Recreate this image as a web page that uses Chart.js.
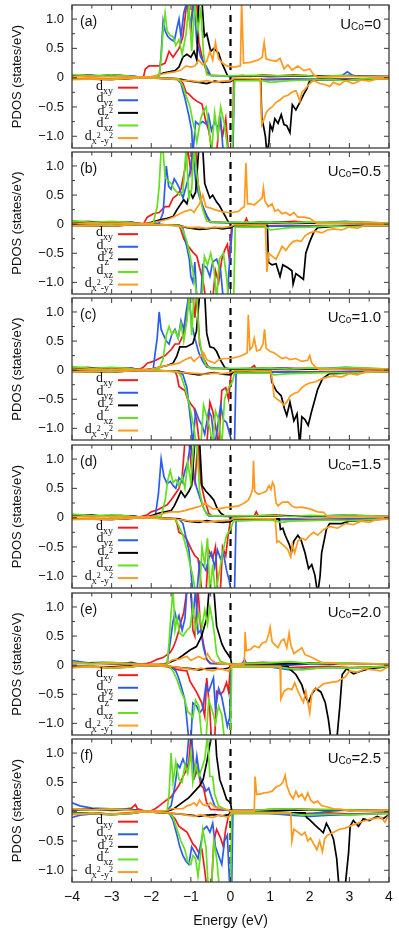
<!DOCTYPE html>
<html>
<head>
<meta charset="utf-8">
<script src="https://cdn.jsdelivr.net/npm/chart.js@4.4.1/dist/chart.umd.min.js"></script>
<style>
  html, body { margin: 0; padding: 0; background: #fff; }
  #wrap { position: relative; width: 399px; height: 934px; overflow: hidden; }
  #wrap canvas { position: absolute; left: 0; }
</style>
</head>
<body>
<div id="wrap"></div>
<script>
// axis ticks / labels
const energyTicks = [-4, -3, -2, -1, 0, 1, 2, 3, 4];
const energyTickLabels = ['−4', '−3', '−2', '−1', '0', '1', '2', '3', '4'];
const energyTickMarks = [-4, -3.5, -3, -2.5, -2, -1.5, -1, -0.5, 0, 0.5, 1, 1.5, 2, 2.5, 3, 3.5, 4];
const pdosTicks = [-1, -0.5, 0, 0.5, 1];
const pdosTickLabels = ['−1.0', '−0.5', '0', '0.5', '1.0'];
const pdosTickMarks = [-1, -0.75, -0.5, -0.25, 0, 0.25, 0.5, 0.75, 1];
const panelLetters = ['(a)', '(b)', '(c)', '(d)', '(e)', '(f)'];
const uValues = ['0', '0.5', '1.0', '1.5', '2.0', '2.5'];

// PDOS, [energy (eV), states/eV]; Up = spin up, Dn = spin down
// (a) U = 0
const aUpXy = [[-4,0.03],[-3.6,0.05],[-3.2,0.02],[-2.8,0.04],[-2.4,0.02],[-2.2,0],[-2.15,0.15],[-2.05,0.2],[-1.8,0.2],[-1.65,0.25],[-1.55,0.45],[-1.45,0.35],[-1.3,0.5],[-1.2,0.7],[-1.1,1.3],[-1.0,0.8],[-0.95,1.3],[-0.85,1.3],[-0.8,0.6],[-0.7,0.3],[-0.6,0.1],[-0.5,0.04],[-0.2,0.03],[0,0.02],[0.3,0.04],[0.5,0.02],[0.8,0.05],[1.2,0.03],[1.6,0.05],[2.0,0.03],[2.5,0.02],[3.0,0.04],[3.5,0.02],[4,0.02]];
const aUpYz = [[-4,0.02],[-3.5,0.04],[-3,0.02],[-2.5,0.03],[-2.2,0],[-1.8,0.02],[-1.75,0.4],[-1.7,0.97],[-1.65,0.8],[-1.58,0.7],[-1.5,0.65],[-1.42,0.62],[-1.35,0.85],[-1.3,1.0],[-1.25,0.7],[-1.18,1.1],[-1.1,1.3],[-1.0,0.9],[-0.92,1.3],[-0.85,0.6],[-0.75,0.35],[-0.62,0.2],[-0.5,0.04],[0,0.02],[0.5,0.03],[1.0,0.02],[2.0,0.03],[2.8,0.03],[2.95,0.1],[3.1,0.03],[4,0.02]];
const aUpZ2 = [[-4,0.03],[-3.5,0.02],[-3,0.05],[-2.5,0.02],[-2.2,0],[-1.9,0.02],[-1.7,0.08],[-1.55,0.1],[-1.4,0.12],[-1.3,0.18],[-1.2,0.35],[-1.1,0.4],[-1.0,0.35],[-0.92,0.45],[-0.85,0.3],[-0.8,1.3],[-0.72,1.3],[-0.66,0.7],[-0.6,0.75],[-0.5,0.45],[-0.42,0.5],[-0.3,0.42],[-0.22,0.25],[-0.15,0.15],[-0.08,0.04],[0,0.02],[0.5,0.03],[1.0,0.02],[2.0,0.03],[4,0.02]];
const aUpXz = [[-4,0.05],[-3.5,0.03],[-3,0.05],[-2.6,0.03],[-2.2,0],[-1.8,0.02],[-1.75,0.35],[-1.7,0.8],[-1.65,1.1],[-1.6,0.8],[-1.52,0.72],[-1.45,0.7],[-1.38,0.55],[-1.3,0.65],[-1.22,0.4],[-1.12,0.75],[-1.05,1.25],[-0.98,0.45],[-0.9,1.25],[-0.82,0.8],[-0.75,1.2],[-0.68,0.4],[-0.6,0.05],[-0.4,0.03],[0,0.03],[0.6,0.04],[1.2,0.03],[1.8,0.04],[2.2,0.02],[2.8,0.04],[3.2,0.02],[4,0.02]];
const aUpX2 = [[-4,0.02],[-3.5,0.01],[-3,0.02],[-2.5,0.01],[-2.0,0.02],[-1.8,0.05],[-1.6,0.08],[-1.4,0.1],[-1.25,0.13],[-1.12,0.2],[-1.0,0.18],[-0.9,0.2],[-0.8,0.3],[-0.7,0.22],[-0.6,0.28],[-0.52,0.45],[-0.45,0.3],[-0.38,0.6],[-0.3,0.32],[-0.2,0.25],[-0.1,0.2],[0.1,0.18],[0.25,0.2],[0.28,1.3],[0.33,0.25],[0.5,0.26],[0.7,0.3],[0.8,0.35],[0.85,0.6],[0.9,0.32],[1.0,0.3],[1.15,0.28],[1.25,0.33],[1.35,0.15],[1.45,0.22],[1.55,0.13],[1.7,0.2],[1.85,0.12],[2.0,0.15],[2.1,0.05],[2.2,0.01],[3,0.02],[4,0.02]];
const aDnXy = [[-4,-0.02],[-3,-0.03],[-2.2,0],[-1.3,-0.02],[-1.2,-0.1],[-1.12,-0.25],[-1.05,-0.28],[-0.95,-0.35],[-0.85,-0.4],[-0.72,-0.45],[-0.62,-0.75],[-0.55,-0.9],[-0.45,-1.3],[-0.35,-1.3],[-0.28,-0.7],[-0.2,-1.0],[-0.12,-0.7],[-0.05,-1.3],[0.05,-1.3],[0.08,-0.02],[0.8,-0.03],[1.5,-0.02],[2.0,-0.03],[3.0,-0.02],[4,-0.02]];
const aDnYz = [[-4,-0.02],[-3,-0.02],[-2.2,0],[-1.35,-0.02],[-1.25,-0.1],[-1.15,-0.35],[-1.05,-0.65],[-0.98,-0.9],[-0.95,-1.3],[-0.88,-0.75],[-0.8,-0.8],[-0.7,-0.75],[-0.6,-0.8],[-0.55,-0.65],[-0.48,-0.9],[-0.4,-0.75],[-0.32,-0.85],[-0.25,-0.7],[-0.18,-1.3],[0.06,-1.3],[0.1,-0.03],[0.8,-0.04],[1.5,-0.03],[2.0,-0.03],[2.8,-0.03],[4,-0.02]];
const aDnZ2 = [[-4,-0.02],[-3,-0.03],[-2.2,0],[-1.3,-0.02],[-1.1,-0.05],[-0.8,-0.08],[-0.6,-0.1],[-0.4,-0.06],[-0.2,-0.08],[0,-0.07],[0.1,-0.02],[0.76,-0.02],[0.79,-0.68],[0.84,-0.85],[0.88,-1.0],[0.92,-1.3],[0.97,-1.1],[1.0,-0.8],[1.06,-0.9],[1.12,-0.7],[1.2,-0.78],[1.28,-0.63],[1.35,-0.8],[1.42,-0.82],[1.5,-0.94],[1.56,-0.46],[1.65,-0.55],[1.75,-0.42],[1.85,-0.28],[1.92,-0.2],[2.0,-0.05],[2.3,-0.03],[3.0,-0.04],[3.5,-0.02],[4,-0.02]];
const aDnXz = [[-4,-0.03],[-3,-0.02],[-2.2,0],[-1.3,-0.02],[-1.2,-0.15],[-1.1,-0.35],[-1.02,-0.5],[-0.95,-0.75],[-0.9,-0.9],[-0.85,-1.1],[-0.8,-0.9],[-0.75,-0.7],[-0.7,-0.6],[-0.62,-0.5],[-0.55,-0.8],[-0.48,-1.3],[-0.4,-0.6],[-0.32,-1.0],[-0.25,-0.5],[-0.15,-0.8],[-0.06,-1.3],[0.04,-1.3],[0.1,-0.05],[0.8,-0.05],[1.0,-0.08],[1.5,-0.05],[2.0,-0.04],[2.5,-0.03],[2.9,-0.05],[3.3,-0.02],[4,-0.02]];
const aDnX2 = [[-4,-0.03],[-3.5,-0.02],[-3,-0.03],[-2.2,0],[-1.5,-0.02],[-1.2,-0.05],[-1.0,-0.05],[-0.8,-0.07],[-0.6,-0.05],[-0.4,-0.08],[-0.2,-0.06],[0,-0.05],[0.1,-0.01],[0.75,-0.02],[0.79,-0.8],[0.85,-0.7],[0.9,-0.6],[0.95,-0.55],[1.05,-0.5],[1.15,-0.42],[1.25,-0.38],[1.35,-0.32],[1.45,-0.3],[1.55,-0.25],[1.65,-0.22],[1.7,-0.3],[1.75,-0.4],[1.8,-0.25],[1.9,-0.18],[2.0,-0.1],[2.1,-0.05],[2.25,-0.1],[2.4,-0.12],[2.5,-0.15],[2.6,-0.08],[2.75,-0.12],[2.9,-0.05],[3.1,-0.1],[3.3,-0.04],[3.5,-0.06],[3.7,-0.02],[4,-0.02]];

// (b) U = 0.5
const bUpXy = [[-4,0.03],[-3.6,0.05],[-3.2,0.02],[-2.8,0.04],[-2.4,0.02],[-2.2,0],[-2.1,0.12],[-1.95,0.18],[-1.8,0.2],[-1.65,0.3],[-1.55,0.3],[-1.45,0.45],[-1.35,0.5],[-1.25,0.6],[-1.15,0.95],[-1.08,1.3],[-1.0,0.9],[-0.95,1.3],[-0.88,1.3],[-0.82,0.7],[-0.72,0.35],[-0.62,0.15],[-0.52,0.04],[-0.2,0.03],[0,0.02],[0.35,0.02],[0.4,0.1],[0.45,0.02],[0.8,0.04],[1.2,0.03],[1.6,0.05],[2.0,0.03],[2.5,0.02],[3.0,0.04],[4,0.02]];
const bUpYz = [[-4,0.02],[-3.5,0.04],[-3,0.02],[-2.5,0.03],[-2.2,0],[-1.8,0.02],[-1.7,0.2],[-1.62,1.0],[-1.56,0.65],[-1.5,0.6],[-1.42,0.78],[-1.35,0.7],[-1.28,0.6],[-1.2,0.45],[-1.1,0.7],[-1.02,0.9],[-0.95,1.3],[-0.88,0.75],[-0.8,0.5],[-0.7,0.3],[-0.6,0.15],[-0.5,0.03],[0,0.02],[1.0,0.03],[2.0,0.02],[2.9,0.05],[3.5,0.02],[4,0.02]];
const bUpZ2 = [[-4,0.02],[-3.5,0.04],[-3,0.02],[-2.5,0.03],[-2.2,0],[-2.0,0.03],[-1.8,0.07],[-1.6,0.1],[-1.45,0.13],[-1.35,0.25],[-1.25,0.35],[-1.18,0.42],[-1.1,0.35],[-1.02,0.55],[-0.95,0.45],[-0.88,0.55],[-0.8,1.3],[-0.7,1.3],[-0.65,0.7],[-0.6,0.6],[-0.52,0.45],[-0.45,0.5],[-0.35,0.38],[-0.28,0.32],[-0.2,0.22],[-0.12,0.12],[-0.05,0.03],[0.5,0.02],[1.0,0.03],[2.0,0.02],[4,0.02]];
const bUpXz = [[-4,0.06],[-3.5,0.03],[-3,0.05],[-2.6,0.03],[-2.2,0],[-1.95,0.02],[-1.85,0.3],[-1.8,0.65],[-1.75,1.3],[-1.7,1.25],[-1.65,0.8],[-1.58,0.75],[-1.5,0.7],[-1.42,0.6],[-1.35,0.55],[-1.28,0.5],[-1.2,0.55],[-1.12,1.3],[-1.05,0.45],[-0.98,0.6],[-0.92,1.3],[-0.85,0.85],[-0.78,0.5],[-0.7,0.25],[-0.6,0.05],[-0.4,0.03],[0,0.03],[0.6,0.03],[1.0,0.04],[1.5,0.02],[2.0,0.04],[2.4,0.03],[3.0,0.04],[4,0.02]];
const bUpX2 = [[-4,0.02],[-3.5,0.01],[-3,0.02],[-2.5,0.01],[-2.0,0.02],[-1.8,0.05],[-1.6,0.08],[-1.45,0.12],[-1.3,0.17],[-1.15,0.22],[-1.0,0.25],[-0.92,0.2],[-0.85,0.28],[-0.78,0.35],[-0.7,0.5],[-0.62,0.3],[-0.52,0.28],[-0.4,0.25],[-0.25,0.22],[-0.1,0.2],[0.05,0.2],[0.2,0.22],[0.3,0.28],[0.35,0.3],[0.39,1.05],[0.43,0.35],[0.5,0.35],[0.6,0.33],[0.75,0.42],[0.8,0.45],[0.83,0.62],[0.87,0.4],[0.95,0.3],[1.05,0.35],[1.12,0.22],[1.2,0.25],[1.3,0.18],[1.4,0.2],[1.5,0.15],[1.6,0.2],[1.7,0.12],[1.85,0.12],[2.0,0.1],[2.1,0.05],[2.2,0.01],[3,0.02],[4,0.02]];
const bDnXy = [[-4,-0.02],[-3,-0.03],[-2.2,0],[-1.3,-0.02],[-1.25,-0.1],[-1.18,-0.25],[-1.1,-0.35],[-1.02,-0.42],[-0.95,-0.48],[-0.85,-0.55],[-0.78,-0.75],[-0.7,-0.95],[-0.62,-1.3],[-0.45,-1.3],[-0.38,-0.8],[-0.3,-1.0],[-0.22,-0.6],[-0.15,-0.45],[-0.08,-0.35],[-0.03,-0.6],[0.03,-0.03],[0.8,-0.03],[1.5,-0.02],[2.0,-0.03],[3.0,-0.02],[4,-0.02]];
const bDnYz = [[-4,-0.02],[-3,-0.02],[-2.2,0],[-1.3,-0.02],[-1.2,-0.08],[-1.1,-0.4],[-1.04,-0.6],[-1.0,-0.9],[-0.95,-1.0],[-0.9,-0.65],[-0.85,-1.3],[-0.75,-1.3],[-0.7,-0.7],[-0.6,-0.75],[-0.52,-0.9],[-0.45,-0.65],[-0.35,-0.6],[-0.25,-0.8],[-0.18,-1.3],[-0.08,-1.3],[-0.04,-0.8],[0.05,-0.03],[0.9,-0.04],[1.5,-0.03],[2.0,-0.04],[2.8,-0.03],[4,-0.02]];
const bDnZ2 = [[-4,-0.02],[-3,-0.03],[-2.2,0],[-1.3,-0.02],[-1.1,-0.06],[-0.8,-0.09],[-0.6,-0.08],[-0.4,-0.06],[-0.2,-0.08],[0,-0.06],[0.1,-0.02],[0.93,-0.02],[0.96,-0.66],[1.05,-0.7],[1.15,-0.68],[1.25,-0.9],[1.32,-0.7],[1.45,-0.75],[1.55,-0.8],[1.58,-1.03],[1.65,-0.85],[1.75,-0.9],[1.84,-0.95],[1.9,-0.5],[2.0,-0.3],[2.1,-0.14],[2.2,-0.06],[2.6,-0.04],[3.0,-0.03],[4,-0.02]];
const bDnXz = [[-4,-0.03],[-3,-0.02],[-2.2,0],[-1.3,-0.02],[-1.2,-0.1],[-1.1,-0.3],[-1.02,-0.55],[-0.95,-0.8],[-0.9,-1.0],[-0.85,-1.2],[-0.8,-1.3],[-0.72,-1.3],[-0.66,-0.55],[-0.58,-0.7],[-0.5,-0.5],[-0.42,-0.75],[-0.35,-1.3],[-0.28,-0.6],[-0.18,-0.5],[-0.1,-0.9],[-0.05,-1.3],[0.08,-1.3],[0.12,-0.05],[0.9,-0.05],[1.0,-0.1],[1.5,-0.06],[2.0,-0.05],[2.5,-0.03],[3.0,-0.04],[4,-0.02]];
const bDnX2 = [[-4,-0.03],[-3.5,-0.02],[-3,-0.03],[-2.2,0],[-1.5,-0.02],[-1.2,-0.04],[-1.0,-0.06],[-0.8,-0.05],[-0.6,-0.07],[-0.4,-0.05],[-0.2,-0.06],[0,-0.04],[0.1,-0.01],[0.88,-0.02],[0.92,-0.82],[0.96,-0.5],[1.05,-0.55],[1.15,-0.6],[1.22,-0.5],[1.3,-0.38],[1.4,-0.45],[1.5,-0.35],[1.58,-0.3],[1.68,-0.28],[1.78,-0.3],[1.88,-0.2],[2.0,-0.15],[2.15,-0.12],[2.3,-0.15],[2.45,-0.1],[2.6,-0.08],[2.8,-0.1],[3.0,-0.05],[3.2,-0.07],[3.4,-0.02],[4,-0.02]];

// (c) U = 1.0
const cUpXy = [[-4,0.03],[-3.6,0.05],[-3.2,0.02],[-2.8,0.04],[-2.3,0.01],[-2.2,0.05],[-2.1,0.12],[-1.95,0.15],[-1.8,0.2],[-1.65,0.25],[-1.5,0.35],[-1.4,0.45],[-1.3,0.45],[-1.2,0.6],[-1.12,0.8],[-1.05,1.3],[-0.95,1.3],[-0.9,0.9],[-0.85,1.3],[-0.78,0.45],[-0.68,0.2],[-0.58,0.08],[-0.5,0.03],[0,0.02],[0.5,0.03],[0.6,0.08],[0.65,0.02],[1.0,0.04],[1.5,0.03],[2.0,0.03],[2.5,0.02],[3.0,0.04],[4,0.02]];
const cUpYz = [[-4,0.02],[-3.5,0.04],[-3,0.02],[-2.5,0.03],[-2.2,0],[-1.95,0.02],[-1.9,0.3],[-1.85,0.55],[-1.8,1.0],[-1.75,0.7],[-1.7,0.62],[-1.62,0.5],[-1.55,0.45],[-1.48,0.62],[-1.4,0.7],[-1.32,0.55],[-1.25,0.85],[-1.18,0.7],[-1.12,1.0],[-1.05,1.3],[-0.98,0.8],[-0.9,0.55],[-0.8,0.3],[-0.7,0.15],[-0.6,0.05],[0,0.02],[1.0,0.03],[2.0,0.02],[2.9,0.05],[3.5,0.02],[4,0.02]];
const cUpZ2 = [[-4,0.02],[-3.5,0.04],[-3,0.02],[-2.5,0.03],[-2.2,0],[-2.0,0.02],[-1.8,0.05],[-1.6,0.08],[-1.45,0.12],[-1.36,0.23],[-1.28,0.4],[-1.12,0.4],[-0.95,0.46],[-0.86,0.67],[-0.78,1.3],[-0.65,1.3],[-0.6,0.63],[-0.52,0.4],[-0.42,0.38],[-0.35,0.32],[-0.26,0.18],[-0.14,0.04],[0,0.02],[1.0,0.03],[2.0,0.02],[4,0.02]];
const cUpXz = [[-4,0.06],[-3.5,0.03],[-3,0.05],[-2.6,0.03],[-2.2,0],[-1.8,0.02],[-1.7,0.2],[-1.62,0.6],[-1.55,0.75],[-1.48,0.62],[-1.4,0.68],[-1.32,0.55],[-1.25,0.8],[-1.18,0.5],[-1.1,0.85],[-1.04,1.3],[-0.98,0.6],[-0.92,1.3],[-0.85,1.3],[-0.8,0.6],[-0.72,0.3],[-0.62,0.08],[-0.5,0.03],[0,0.03],[0.6,0.03],[1.0,0.04],[1.5,0.02],[2.0,0.04],[2.5,0.03],[3.0,0.05],[4,0.02]];
const cUpX2 = [[-4,0.02],[-3.5,0.01],[-3,0.02],[-2.5,0.01],[-2.0,0.02],[-1.8,0.05],[-1.6,0.08],[-1.45,0.1],[-1.3,0.12],[-1.15,0.18],[-1.0,0.22],[-0.92,0.15],[-0.85,0.2],[-0.75,0.25],[-0.68,0.3],[-0.6,0.18],[-0.5,0.15],[-0.4,0.12],[-0.3,0.18],[-0.15,0.2],[0,0.2],[0.2,0.23],[0.35,0.27],[0.42,0.3],[0.45,0.95],[0.49,0.35],[0.55,0.4],[0.6,0.55],[0.66,0.33],[0.75,0.35],[0.82,0.45],[0.86,0.7],[0.9,0.38],[1.0,0.32],[1.1,0.3],[1.2,0.25],[1.3,0.2],[1.4,0.22],[1.5,0.18],[1.65,0.2],[1.8,0.15],[1.95,0.17],[2.0,0.25],[2.05,0.12],[2.15,0.05],[2.25,0.01],[3,0.02],[4,0.02]];
const cDnXy = [[-4,-0.02],[-3,-0.03],[-2.2,0],[-1.4,-0.02],[-1.35,-0.1],[-1.3,-0.28],[-1.22,-0.32],[-1.15,-0.35],[-1.08,-0.5],[-1.0,-0.58],[-0.92,-0.65],[-0.85,-0.88],[-0.78,-1.3],[-0.6,-1.3],[-0.52,-0.55],[-0.45,-0.7],[-0.38,-0.95],[-0.3,-1.3],[-0.22,-0.35],[-0.12,-0.3],[-0.05,-0.5],[0.02,-0.03],[0.8,-0.03],[1.5,-0.02],[2.0,-0.03],[3.0,-0.02],[4,-0.02]];
const cDnYz = [[-4,-0.02],[-3,-0.02],[-2.2,0],[-1.3,-0.02],[-1.2,-0.08],[-1.1,-0.3],[-1.05,-0.6],[-1.0,-0.9],[-0.95,-1.3],[-0.88,-0.7],[-0.8,-0.85],[-0.72,-0.95],[-0.65,-1.1],[-0.55,-0.7],[-0.48,-0.8],[-0.4,-1.3],[-0.33,-1.0],[-0.25,-0.6],[-0.18,-0.85],[-0.1,-0.9],[-0.02,-1.1],[0.06,-1.3],[0.1,-1.3],[0.14,-0.05],[0.9,-0.04],[1.5,-0.03],[2.0,-0.04],[2.8,-0.03],[4,-0.02]];
const cDnZ2 = [[-4,-0.02],[-3,-0.03],[-2.2,0],[-1.3,-0.02],[-1.1,-0.05],[-0.8,-0.08],[-0.6,-0.06],[-0.4,-0.04],[-0.2,-0.07],[0,-0.08],[0.1,-0.02],[1.02,-0.02],[1.04,-0.2],[1.16,-0.36],[1.28,-0.44],[1.36,-0.66],[1.42,-0.78],[1.5,-0.55],[1.6,-0.87],[1.68,-0.75],[1.75,-1.3],[1.8,-0.8],[1.88,-0.85],[1.96,-0.95],[2.05,-0.7],[2.2,-0.33],[2.32,-0.15],[2.5,-0.06],[3.0,-0.05],[3.5,-0.03],[4,-0.02]];
const cDnXz = [[-4,-0.03],[-3,-0.02],[-2.2,0],[-1.35,-0.02],[-1.25,-0.1],[-1.15,-0.3],[-1.05,-0.55],[-0.98,-0.8],[-0.92,-1.0],[-0.86,-1.3],[-0.75,-1.3],[-0.68,-0.6],[-0.6,-0.8],[-0.52,-1.0],[-0.45,-1.3],[-0.38,-0.7],[-0.3,-0.85],[-0.22,-1.3],[-0.15,-0.5],[-0.05,-0.3],[0.05,-0.2],[0.1,-0.05],[1.0,-0.05],[1.1,-0.08],[1.5,-0.06],[2.0,-0.05],[2.5,-0.04],[3.0,-0.05],[4,-0.02]];
const cDnX2 = [[-4,-0.03],[-3.5,-0.02],[-3,-0.03],[-2.2,0],[-1.5,-0.02],[-1.2,-0.04],[-1.0,-0.05],[-0.8,-0.06],[-0.6,-0.07],[-0.4,-0.05],[-0.2,-0.06],[0,-0.04],[0.1,-0.01],[1.02,-0.02],[1.06,-0.2],[1.1,-0.45],[1.18,-0.5],[1.28,-0.55],[1.35,-0.6],[1.42,-0.55],[1.5,-0.45],[1.6,-0.4],[1.7,-0.38],[1.8,-0.3],[1.9,-0.25],[2.0,-0.22],[2.15,-0.2],[2.3,-0.15],[2.45,-0.12],[2.6,-0.1],[2.8,-0.12],[3.0,-0.06],[3.2,-0.08],[3.4,-0.03],[4,-0.02]];

// (d) U = 1.5
const dUpXy = [[-4,0.03],[-3.6,0.05],[-3.2,0.02],[-2.8,0.04],[-2.3,0.01],[-2.1,0.05],[-2.0,0.1],[-1.85,0.13],[-1.7,0.18],[-1.6,0.22],[-1.5,0.3],[-1.4,0.4],[-1.3,0.5],[-1.22,0.7],[-1.15,1.3],[-1.05,1.3],[-0.98,0.8],[-0.9,0.6],[-0.82,1.3],[-0.75,0.6],[-0.65,0.3],[-0.55,0.08],[-0.48,0.03],[0,0.02],[0.6,0.03],[0.65,0.1],[0.7,0.03],[1.1,0.05],[1.5,0.03],[2.0,0.03],[2.5,0.02],[3.0,0.04],[4,0.02]];
const dUpYz = [[-4,0.02],[-3.5,0.04],[-3,0.02],[-2.5,0.03],[-2.2,0],[-1.9,0.02],[-1.82,0.4],[-1.75,1.0],[-1.68,0.7],[-1.6,0.58],[-1.52,0.62],[-1.45,0.55],[-1.38,0.5],[-1.3,0.68],[-1.22,0.6],[-1.15,0.8],[-1.08,0.95],[-1.0,1.3],[-0.92,0.7],[-0.85,0.5],[-0.75,0.3],[-0.65,0.12],[-0.55,0.03],[0,0.02],[1.0,0.03],[2.0,0.02],[2.9,0.05],[3.5,0.02],[4,0.02]];
const dUpZ2 = [[-4,0.02],[-3.5,0.04],[-3,0.02],[-2.5,0.03],[-2.2,0],[-2.0,0.03],[-1.8,0.08],[-1.65,0.1],[-1.5,0.12],[-1.42,0.2],[-1.35,0.3],[-1.25,0.45],[-1.15,0.35],[-1.05,0.45],[-0.98,0.55],[-0.9,1.3],[-0.78,1.3],[-0.72,0.55],[-0.62,0.45],[-0.52,0.38],[-0.42,0.3],[-0.35,0.18],[-0.25,0.08],[-0.15,0.03],[0,0.02],[1.0,0.03],[2.0,0.02],[4,0.02]];
const dUpXz = [[-4,0.06],[-3.5,0.03],[-3,0.05],[-2.6,0.03],[-2.2,0],[-1.75,0.02],[-1.65,0.3],[-1.58,0.65],[-1.52,0.8],[-1.45,0.6],[-1.38,0.65],[-1.3,0.55],[-1.22,0.7],[-1.15,0.5],[-1.08,0.95],[-1.0,0.6],[-0.92,1.3],[-0.85,1.3],[-0.78,0.45],[-0.7,0.2],[-0.6,0.05],[-0.45,0.03],[0,0.03],[0.6,0.03],[1.0,0.04],[1.5,0.02],[2.0,0.04],[2.5,0.03],[3.0,0.05],[4,0.02]];
const dUpX2 = [[-4,0.02],[-3.5,0.01],[-3,0.02],[-2.5,0.01],[-2.0,0.02],[-1.8,0.05],[-1.65,0.08],[-1.5,0.1],[-1.3,0.1],[-1.15,0.12],[-1.0,0.15],[-0.85,0.18],[-0.75,0.2],[-0.65,0.25],[-0.55,0.2],[-0.45,0.15],[-0.3,0.15],[-0.15,0.17],[0,0.18],[0.2,0.2],[0.35,0.25],[0.45,0.3],[0.52,0.4],[0.56,0.5],[0.58,0.97],[0.61,0.45],[0.7,0.4],[0.8,0.42],[0.9,0.45],[0.97,0.55],[1.02,0.48],[1.06,0.6],[1.1,0.55],[1.15,0.25],[1.2,0.2],[1.3,0.26],[1.45,0.27],[1.55,0.2],[1.65,0.17],[1.8,0.18],[2.0,0.15],[2.2,0.1],[2.35,0.09],[2.45,0.02],[3,0.02],[4,0.02]];
const dDnXy = [[-4,-0.02],[-3,-0.03],[-2.2,0],[-1.4,-0.02],[-1.35,-0.1],[-1.3,-0.25],[-1.22,-0.28],[-1.12,-0.35],[-1.05,-0.45],[-0.98,-0.55],[-0.9,-0.65],[-0.82,-0.7],[-0.78,-0.9],[-0.72,-1.3],[-0.62,-1.3],[-0.55,-0.55],[-0.45,-0.7],[-0.38,-0.5],[-0.32,-1.3],[-0.26,-1.3],[-0.2,-0.5],[-0.12,-0.65],[-0.06,-0.3],[0,-0.05],[0.05,-0.03],[0.8,-0.03],[1.5,-0.02],[2.0,-0.03],[3.0,-0.02],[4,-0.02]];
const dDnYz = [[-4,-0.02],[-3,-0.02],[-2.2,0],[-1.3,-0.02],[-1.2,-0.1],[-1.12,-0.35],[-1.05,-0.55],[-1.0,-0.9],[-0.95,-1.3],[-0.85,-1.3],[-0.78,-0.75],[-0.7,-0.8],[-0.62,-0.9],[-0.55,-0.7],[-0.48,-0.6],[-0.4,-0.85],[-0.33,-0.55],[-0.25,-0.7],[-0.18,-0.6],[-0.1,-0.9],[-0.04,-1.05],[0.03,-1.3],[0.1,-1.3],[0.14,-0.05],[0.9,-0.04],[1.5,-0.03],[2.0,-0.04],[2.8,-0.03],[4,-0.02]];
const dDnZ2 = [[-4,-0.02],[-3,-0.03],[-2.2,0],[-1.3,-0.02],[-1.1,-0.06],[-0.8,-0.08],[-0.6,-0.05],[-0.4,-0.07],[-0.2,-0.08],[0,-0.07],[0.1,-0.02],[1.23,-0.02],[1.26,-0.2],[1.32,-0.18],[1.38,-0.3],[1.48,-0.45],[1.54,-0.59],[1.6,-0.4],[1.7,-0.3],[1.78,-0.38],[1.88,-0.6],[1.97,-0.87],[2.05,-0.8],[2.13,-0.98],[2.2,-1.3],[2.26,-1.0],[2.3,-0.6],[2.36,-0.4],[2.42,-0.2],[2.5,-0.1],[2.8,-0.1],[3.0,-0.06],[3.5,-0.04],[4,-0.02]];
const dDnXz = [[-4,-0.03],[-3,-0.02],[-2.2,0],[-1.4,-0.02],[-1.3,-0.15],[-1.2,-0.3],[-1.1,-0.55],[-1.02,-0.8],[-0.95,-1.0],[-0.88,-1.3],[-0.78,-1.3],[-0.72,-0.5],[-0.65,-0.8],[-0.58,-0.35],[-0.52,-1.3],[-0.45,-0.8],[-0.38,-1.3],[-0.3,-1.0],[-0.2,-0.6],[-0.1,-0.3],[0,-0.2],[0.08,-0.05],[1.0,-0.04],[1.3,-0.08],[1.5,-0.06],[2.0,-0.05],[2.5,-0.04],[3.0,-0.05],[4,-0.02]];
const dDnX2 = [[-4,-0.03],[-3.5,-0.02],[-3,-0.03],[-2.2,0],[-1.5,-0.02],[-1.2,-0.04],[-1.0,-0.06],[-0.8,-0.05],[-0.6,-0.08],[-0.4,-0.06],[-0.2,-0.05],[0,-0.04],[0.1,-0.01],[1.13,-0.02],[1.17,-0.42],[1.22,-0.4],[1.3,-0.45],[1.38,-0.5],[1.45,-0.55],[1.52,-0.67],[1.56,-0.45],[1.62,-0.6],[1.7,-0.4],[1.8,-0.35],[1.9,-0.38],[2.0,-0.3],[2.1,-0.25],[2.2,-0.3],[2.35,-0.2],[2.5,-0.15],[2.7,-0.18],[2.9,-0.1],[3.1,-0.12],[3.3,-0.06],[3.5,-0.08],[3.7,-0.03],[4,-0.02]];

// (e) U = 2.0
const eUpXy = [[-4,0.05],[-3.6,0.03],[-3.2,0.04],[-2.8,0.02],[-2.5,0.05],[-2.3,0.01],[-2.1,0.03],[-2.0,0.05],[-1.85,0.1],[-1.7,0.13],[-1.6,0.18],[-1.52,0.22],[-1.45,0.3],[-1.38,0.42],[-1.3,0.6],[-1.25,0.75],[-1.18,0.9],[-1.1,1.3],[-1.0,1.3],[-0.95,0.6],[-0.9,0.5],[-0.82,1.3],[-0.76,0.7],[-0.68,0.35],[-0.6,0.1],[-0.52,0.03],[0,0.02],[0.4,0.03],[0.8,0.05],[1.2,0.04],[1.6,0.03],[2.0,0.04],[2.5,0.02],[3.0,0.03],[4,0.02]];
const eUpYz = [[-4,0.08],[-3.6,0.04],[-3.2,0.05],[-2.8,0.03],[-2.5,0.04],[-2.2,0.01],[-1.6,0.02],[-1.52,0.4],[-1.45,0.75],[-1.4,0.9],[-1.35,0.75],[-1.3,0.85],[-1.22,0.6],[-1.15,0.8],[-1.1,1.3],[-1.0,1.3],[-0.95,0.8],[-0.88,1.3],[-0.82,0.55],[-0.75,0.6],[-0.68,0.3],[-0.6,0.1],[-0.5,0.03],[0,0.02],[0.3,0.02],[0.35,0.1],[0.4,0.03],[1.0,0.02],[1.5,0],[2.0,0.02],[2.5,0.03],[3.0,0.02],[4,0.02]];
const eUpZ2 = [[-4,0.03],[-3.5,0.04],[-3,0.02],[-2.5,0.03],[-2.2,0],[-1.8,0.01],[-1.6,0.03],[-1.5,0.06],[-1.35,0.1],[-1.2,0.17],[-1.02,0.26],[-0.86,0.32],[-0.73,0.5],[-0.6,0.8],[-0.54,1.3],[-0.42,1.3],[-0.35,0.67],[-0.22,0.37],[-0.14,0.26],[-0.05,0.17],[0,0.12],[0.03,0.02],[1.0,0.02],[2.0,0.03],[4,0.02]];
const eUpXz = [[-4,0.05],[-3.5,0.03],[-3,0.05],[-2.6,0.03],[-2.2,0],[-1.6,0.02],[-1.55,0.4],[-1.5,0.9],[-1.45,1.3],[-1.4,0.6],[-1.35,0.8],[-1.28,0.55],[-1.2,0.5],[-1.1,0.6],[-1.02,0.65],[-0.95,1.0],[-0.88,0.6],[-0.8,0.9],[-0.72,0.65],[-0.65,0.95],[-0.58,0.7],[-0.52,1.0],[-0.45,0.75],[-0.4,0.5],[-0.35,0.2],[-0.25,0.06],[-0.1,0.03],[0,0.02],[0.6,0.03],[1.0,0.04],[1.5,0.06],[2.0,0.03],[2.5,0.04],[3.0,0.03],[4,0.02]];
const eUpX2 = [[-4,0.03],[-3.5,0.02],[-3,0.03],[-2.5,0.02],[-2.0,0.01],[-1.6,0.02],[-1.5,0.08],[-1.4,0.1],[-1.3,0.1],[-1.2,0.13],[-1.1,0.15],[-1.0,0.08],[-0.9,0.12],[-0.8,0.15],[-0.72,0.12],[-0.65,0.1],[-0.58,0.2],[-0.5,0.1],[-0.4,0.05],[-0.25,0.03],[0,0.01],[0.33,0.01],[0.35,0.05],[0.37,0.57],[0.4,0.25],[0.5,0.27],[0.6,0.33],[0.72,0.3],[0.8,0.38],[0.9,0.4],[0.97,0.55],[1.0,0.65],[1.05,0.4],[1.12,0.35],[1.2,0.3],[1.28,0.42],[1.35,0.45],[1.42,0.3],[1.48,0.55],[1.52,0.35],[1.6,0.2],[1.7,0.25],[1.8,0.3],[1.88,0.18],[2.0,0.15],[2.1,0.12],[2.2,0.08],[2.3,0.05],[2.6,0.04],[2.8,0.01],[3.2,0.02],[4,0.02]];
const eDnXy = [[-4,-0.04],[-3.5,-0.03],[-3,-0.05],[-2.5,-0.03],[-2.2,0],[-1.6,-0.02],[-1.5,-0.05],[-1.3,-0.08],[-1.1,-0.1],[-1.02,-0.28],[-0.86,-0.46],[-0.73,-0.64],[-0.65,-0.88],[-0.6,-0.22],[-0.52,-0.8],[-0.48,-1.3],[-0.4,-1.3],[-0.35,-0.45],[-0.25,-0.5],[-0.18,-0.45],[-0.1,-0.3],[-0.05,-0.45],[0,-0.02],[0.5,-0.02],[1.0,-0.03],[1.5,-0.04],[2.0,-0.03],[2.5,-0.02],[3.0,-0.04],[4,-0.02]];
const eDnYz = [[-4,-0.03],[-3.5,-0.02],[-3,-0.04],[-2.5,-0.02],[-2.2,0],[-1.5,-0.02],[-1.38,-0.1],[-1.32,-0.2],[-1.25,-0.35],[-1.15,-0.6],[-1.05,-1.3],[-1.0,-1.3],[-0.95,-0.65],[-0.86,-0.7],[-0.78,-0.82],[-0.7,-0.75],[-0.62,-0.35],[-0.55,-0.45],[-0.43,-0.22],[-0.38,-0.75],[-0.3,-0.4],[-0.22,-0.55],[-0.15,-0.8],[-0.08,-1.05],[-0.02,-0.9],[0.02,-0.02],[1.0,-0.03],[1.5,-0.08],[2.0,-0.06],[2.5,-0.04],[3.0,-0.05],[4,-0.02]];
const eDnZ2 = [[-4,-0.02],[-3,-0.03],[-2.2,0],[-1.6,-0.02],[-1.3,-0.04],[-1.0,-0.06],[-0.8,-0.08],[-0.6,-0.06],[-0.4,-0.05],[-0.2,-0.07],[-0.05,-0.05],[0.02,-0.01],[1.45,-0.02],[1.5,-0.07],[1.65,-0.16],[1.8,-0.34],[1.88,-0.52],[1.97,-0.64],[2.05,-0.5],[2.15,-0.4],[2.28,-0.46],[2.39,-0.64],[2.47,-0.93],[2.54,-1.3],[2.68,-1.3],[2.76,-0.7],[2.82,-0.16],[2.93,-0.06],[3.1,-0.15],[3.3,-0.1],[3.5,-0.06],[3.8,-0.04],[4,-0.02]];
const eDnXz = [[-4,-0.04],[-3.5,-0.02],[-3,-0.05],[-2.5,-0.03],[-2.2,0],[-1.55,-0.02],[-1.45,-0.1],[-1.35,-0.25],[-1.25,-0.45],[-1.15,-0.6],[-1.08,-0.8],[-1.0,-0.85],[-0.95,-0.9],[-0.88,-0.6],[-0.8,-0.7],[-0.72,-1.3],[-0.62,-1.3],[-0.55,-0.6],[-0.45,-0.8],[-0.38,-1.0],[-0.3,-0.7],[-0.22,-0.85],[-0.15,-1.3],[0,-1.3],[0.03,-0.03],[1.2,-0.03],[1.5,-0.06],[1.8,-0.08],[2.2,-0.05],[2.6,-0.04],[3.0,-0.05],[4,-0.02]];
const eDnX2 = [[-4,-0.04],[-3.5,-0.03],[-3,-0.04],[-2.5,-0.02],[-2.2,0],[-1.5,-0.02],[-1.3,-0.04],[-1.1,-0.06],[-0.9,-0.08],[-0.75,-0.05],[-0.6,-0.08],[-0.45,-0.1],[-0.3,-0.06],[-0.15,-0.08],[-0.05,-0.1],[0.02,-0.01],[1.25,-0.02],[1.27,-0.58],[1.35,-0.45],[1.45,-0.4],[1.55,-0.42],[1.62,-0.3],[1.71,-0.46],[1.84,-0.64],[1.9,-0.45],[2.0,-0.82],[2.05,-0.5],[2.1,-0.42],[2.2,-0.4],[2.35,-0.32],[2.5,-0.3],[2.7,-0.28],[2.9,-0.2],[3.0,-0.1],[3.2,-0.12],[3.4,-0.06],[3.6,-0.08],[3.8,-0.1],[4,-0.02]];

// (f) U = 2.5
const fUpXy = [[-4,0.05],[-3.6,0.04],[-3.2,0.05],[-2.8,0.03],[-2.5,0.06],[-2.4,0.12],[-2.35,0.05],[-2.2,0.02],[-2.05,0],[-1.9,0.05],[-1.8,0.1],[-1.65,0.18],[-1.5,0.25],[-1.4,0.35],[-1.3,0.45],[-1.2,0.6],[-1.12,0.7],[-1.05,0.85],[-1.0,1.3],[-0.95,1.0],[-0.9,0.6],[-0.82,0.75],[-0.75,0.45],[-0.68,0.4],[-0.6,0.15],[-0.5,0.04],[0,0.02],[0.6,0.02],[1.0,0.04],[1.5,0.05],[2.0,0.04],[2.5,0.03],[3.0,0.02],[4,0.02]];
const fUpYz = [[-4,0.15],[-3.8,0.1],[-3.5,0.06],[-3.0,0.05],[-2.5,0.04],[-2.2,0.01],[-1.6,0.02],[-1.5,0.1],[-1.4,0.45],[-1.33,0.8],[-1.28,0.75],[-1.2,0.9],[-1.12,0.75],[-1.05,1.3],[-0.98,1.3],[-0.92,0.55],[-0.85,0.95],[-0.78,0.6],[-0.7,0.5],[-0.62,0.35],[-0.55,0.4],[-0.48,0.25],[-0.4,0.1],[-0.3,0.05],[-0.15,0.03],[0,0.02],[0.6,0.02],[1.0,0.01],[1.5,-0.02],[2.0,-0.04],[2.5,0.01],[3.0,0.03],[4,0.02]];
const fUpZ2 = [[-4,0.03],[-3.5,0.04],[-3,0.02],[-2.5,0.03],[-2.2,0],[-1.6,0.01],[-1.45,0.04],[-1.23,0.15],[-1.05,0.24],[-0.9,0.35],[-0.78,0.44],[-0.69,0.55],[-0.6,0.84],[-0.54,1.07],[-0.48,1.3],[-0.38,1.3],[-0.35,0.95],[-0.27,0.55],[-0.18,0.38],[-0.1,0.21],[0,0.15],[0.03,0.02],[1.0,0.02],[2.0,0.03],[4,0.02]];
const fUpXz = [[-4,0.05],[-3.5,0.03],[-3,0.05],[-2.6,0.03],[-2.2,0],[-1.6,0.02],[-1.55,0.3],[-1.5,1.0],[-1.45,0.5],[-1.38,0.85],[-1.3,0.55],[-1.22,0.5],[-1.15,0.8],[-1.08,0.65],[-1.0,1.0],[-0.95,0.5],[-0.88,0.8],[-0.8,0.6],[-0.72,0.75],[-0.65,0.9],[-0.58,1.3],[-0.52,0.6],[-0.45,0.6],[-0.4,0.3],[-0.3,0.1],[-0.15,0.04],[0,0.02],[0.6,0.02],[1.0,0.04],[1.5,0.05],[2.0,0.03],[2.5,0.04],[3.0,0.03],[4,0.02]];
const fUpX2 = [[-4,0.05],[-3.5,0.03],[-3,0.04],[-2.5,0.02],[-2.2,0.01],[-1.6,0.02],[-1.5,0.05],[-1.35,0.05],[-1.2,0.05],[-1.1,0.1],[-1.0,0.12],[-0.92,0.15],[-0.85,0.1],[-0.78,0.2],[-0.7,0.12],[-0.6,0.1],[-0.5,0.15],[-0.4,0.08],[-0.3,0.06],[-0.15,0.05],[0,0.01],[0.6,0.01],[0.62,0.6],[0.66,0.3],[0.75,0.3],[0.85,0.32],[0.95,0.33],[1.05,0.35],[1.15,0.42],[1.25,0.45],[1.32,0.5],[1.38,0.62],[1.42,0.45],[1.5,0.3],[1.58,0.22],[1.65,0.35],[1.72,0.25],[1.8,0.3],[1.88,0.2],[1.95,0.32],[2.02,0.2],[2.1,0.15],[2.2,0.18],[2.3,0.1],[2.45,0.08],[2.6,0.05],[2.8,0.04],[3.0,0.01],[3.5,0.02],[4,0.03]];
const fDnXy = [[-4,-0.04],[-3.5,-0.03],[-3,-0.05],[-2.5,-0.03],[-2.2,0],[-1.6,-0.02],[-1.5,-0.05],[-1.4,-0.12],[-1.3,-0.25],[-1.2,-0.3],[-1.1,-0.35],[-1.02,-0.45],[-0.95,-0.55],[-0.88,-0.6],[-0.8,-0.7],[-0.72,-0.65],[-0.65,-1.0],[-0.6,-1.3],[-0.48,-1.3],[-0.42,-0.5],[-0.35,-0.3],[-0.25,-0.45],[-0.18,-0.6],[-0.12,-0.3],[-0.06,-0.1],[0,-0.02],[0.6,-0.02],[1.0,-0.03],[1.5,-0.04],[2.0,-0.03],[2.5,-0.02],[3.0,-0.04],[4,-0.02]];
const fDnYz = [[-4,-0.1],[-3.8,-0.06],[-3.5,-0.04],[-3,-0.05],[-2.5,-0.03],[-2.2,0],[-1.55,-0.02],[-1.45,-0.15],[-1.35,-0.4],[-1.28,-0.6],[-1.2,-0.75],[-1.12,-0.85],[-1.05,-0.9],[-0.98,-0.6],[-0.9,-0.7],[-0.82,-0.8],[-0.75,-0.55],[-0.68,-0.3],[-0.6,-0.25],[-0.52,-0.35],[-0.45,-0.2],[-0.38,-0.6],[-0.3,-0.75],[-0.22,-0.9],[-0.15,-0.5],[-0.08,-0.4],[-0.02,-1.3],[0.03,-1.3],[0.06,-0.03],[1.0,-0.03],[1.5,-0.06],[2.0,-0.08],[2.5,-0.06],[3.0,-0.05],[4,-0.03]];
const fDnZ2 = [[-4,-0.03],[-3.5,-0.02],[-3,-0.04],[-2.5,-0.02],[-2.2,0],[-1.6,-0.02],[-1.3,-0.04],[-1.0,-0.06],[-0.8,-0.08],[-0.6,-0.06],[-0.4,-0.05],[-0.2,-0.07],[-0.05,-0.05],[0.02,-0.01],[1.88,-0.02],[1.92,-0.1],[2.0,-0.14],[2.12,-0.22],[2.25,-0.3],[2.34,-0.36],[2.42,-0.2],[2.5,-0.3],[2.6,-0.47],[2.68,-0.8],[2.74,-1.3],[2.89,-1.3],[2.98,-0.7],[3.02,-0.25],[3.1,-0.15],[3.23,-0.25],[3.35,-0.12],[3.5,-0.15],[3.7,-0.08],[3.85,-0.12],[4,-0.05]];
const fDnXz = [[-4,-0.04],[-3.5,-0.02],[-3,-0.05],[-2.5,-0.03],[-2.2,0],[-1.55,-0.02],[-1.45,-0.1],[-1.35,-0.3],[-1.25,-0.5],[-1.15,-0.65],[-1.08,-0.85],[-1.0,-0.9],[-0.95,-0.75],[-0.88,-0.8],[-0.82,-1.1],[-0.75,-0.7],[-0.7,-0.3],[-0.62,-0.6],[-0.56,-1.3],[-0.48,-1.3],[-0.42,-0.5],[-0.35,-0.8],[-0.28,-1.3],[0,-1.3],[0.03,-0.03],[1.5,-0.03],[1.8,-0.06],[2.2,-0.05],[2.6,-0.04],[3.0,-0.06],[3.5,-0.04],[4,-0.03]];
const fDnX2 = [[-4,-0.05],[-3.5,-0.03],[-3,-0.04],[-2.5,-0.02],[-2.2,0],[-1.5,-0.02],[-1.3,-0.04],[-1.1,-0.06],[-0.9,-0.08],[-0.75,-0.05],[-0.6,-0.08],[-0.45,-0.1],[-0.3,-0.06],[-0.15,-0.08],[-0.05,-0.1],[0.02,-0.01],[1.52,-0.02],[1.55,-0.5],[1.6,-0.3],[1.7,-0.35],[1.8,-0.4],[1.88,-0.35],[1.95,-0.5],[2.02,-0.45],[2.1,-0.55],[2.18,-0.65],[2.25,-0.5],[2.32,-0.68],[2.38,-0.45],[2.45,-0.4],[2.6,-0.35],[2.75,-0.3],[2.9,-0.28],[3.0,-0.25],[3.2,-0.2],[3.4,-0.15],[3.6,-0.12],[3.8,-0.1],[3.9,-0.18],[4,-0.05]];

const panels = [
  { up: [aUpXy, aUpYz, aUpZ2, aUpXz, aUpX2], dn: [aDnXy, aDnYz, aDnZ2, aDnXz, aDnX2] },
  { up: [bUpXy, bUpYz, bUpZ2, bUpXz, bUpX2], dn: [bDnXy, bDnYz, bDnZ2, bDnXz, bDnX2] },
  { up: [cUpXy, cUpYz, cUpZ2, cUpXz, cUpX2], dn: [cDnXy, cDnYz, cDnZ2, cDnXz, cDnX2] },
  { up: [dUpXy, dUpYz, dUpZ2, dUpXz, dUpX2], dn: [dDnXy, dDnYz, dDnZ2, dDnXz, dDnX2] },
  { up: [eUpXy, eUpYz, eUpZ2, eUpXz, eUpX2], dn: [eDnXy, eDnYz, eDnZ2, eDnXz, eDnX2] },
  { up: [fUpXy, fUpYz, fUpZ2, fUpXz, fUpX2], dn: [fDnXy, fDnYz, fDnZ2, fDnXz, fDnX2] }
];

const orbitalColors = ['#f01c1c', '#2b5cf2', '#000000', '#62e01c', '#ff9a1e'];
const drawOrder = [5, 4, 3, 2, 1]; // orange ends up on top
// legend labels as [text, baseline shift, font size]
const legendLabels = [
  [['d', 0, 14], ['xy', 4, 10]],
  [['d', 0, 14], ['yz', 4, 10]],
  [['d', 0, 14], ['z', 4, 10], ['2', -2, 8]],
  [['d', 0, 14], ['xz', 4, 10]],
  [['d', 0, 14], ['x', 4, 10], ['2', -2, 8], ['-y', 4, 10], ['2', -2, 8]]
];

// layout of the six stacked frames (page pixels)
const panelTops = [5, 152, 298, 445, 593, 739];
const panelBottoms = [148, 294, 440, 588, 735, 882];
const SANS = '"Liberation Sans", Arial, Helvetica, sans-serif';
const SERIF = '"Liberation Serif", "Times New Roman", serif';

function drawRich(ctx, segs, xRight, baseY) {
  let w = 0;
  segs.forEach(([t, , size]) => { ctx.font = size + 'px ' + SERIF; w += ctx.measureText(t).width; });
  let x = xRight - w;
  segs.forEach(([t, dy, size]) => {
    ctx.font = size + 'px ' + SERIF;
    ctx.fillText(t, x, baseY + dy);
    x += ctx.measureText(t).width;
  });
}

const fermiLine = {
  id: 'fermiLine',
  beforeDatasetsDraw(chart) {
    const { ctx, chartArea: a, scales: { x } } = chart;
    const px = x.getPixelForValue(0);
    ctx.save();
    ctx.strokeStyle = '#000';
    ctx.lineWidth = 2.2;
    ctx.setLineDash([7, 5]);
    ctx.beginPath();
    ctx.moveTo(px, a.top + 10);
    ctx.lineTo(px, a.bottom);
    ctx.stroke();
    ctx.restore();
  }
};

const panelDeco = {
  id: 'panelDeco',
  afterDatasetsDraw(chart, args, opts) {
    const { ctx, chartArea: a, scales: { x, y } } = chart;
    ctx.save();
    // frame
    ctx.strokeStyle = '#3c3c3c';
    ctx.lineWidth = 1.3;
    ctx.strokeRect(a.left, a.top, a.right - a.left, a.bottom - a.top);
    // inward ticks on all four sides
    ctx.lineWidth = 1;
    ctx.beginPath();
    energyTickMarks.forEach(v => {
      const px = x.getPixelForValue(v);
      const len = Number.isInteger(v) ? 5 : 3.5;
      ctx.moveTo(px, a.bottom); ctx.lineTo(px, a.bottom - len);
      ctx.moveTo(px, a.top); ctx.lineTo(px, a.top + len);
    });
    pdosTickMarks.forEach(v => {
      const py = y.getPixelForValue(v);
      const len = (v * 2) % 1 === 0 ? 5 : 3;
      ctx.moveTo(a.left, py); ctx.lineTo(a.left + len, py);
      ctx.moveTo(a.right, py); ctx.lineTo(a.right - len, py);
    });
    ctx.stroke();

    // panel letter
    ctx.fillStyle = '#111';
    ctx.textBaseline = 'alphabetic';
    ctx.textAlign = 'left';
    ctx.font = '14px ' + SANS;
    ctx.fillText(opts.letter, a.left + 8, a.top + 21);

    // U_Co label
    const base = a.top + 24;
    ctx.font = '15px ' + SANS;
    const wU = ctx.measureText('U').width;
    const tail = '=' + opts.u;
    const wTail = ctx.measureText(tail).width;
    ctx.font = '10px ' + SANS;
    const wCo = ctx.measureText('Co').width;
    let xs = a.right - 8 - (wU + wCo + wTail);
    ctx.font = '15px ' + SANS;
    ctx.fillText('U', xs, base);
    xs += wU;
    ctx.font = '10px ' + SANS;
    ctx.fillText('Co', xs, base + 1);
    xs += wCo;
    ctx.font = '15px ' + SANS;
    ctx.fillText(tail, xs, base);

    // legend
    const y0 = y.getPixelForValue(0);
    legendLabels.forEach((segs, k) => {
      const ly = y0 + 10 + k * 12.6;
      ctx.fillStyle = '#111';
      drawRich(ctx, segs, a.left + 41, ly + 2);
      ctx.strokeStyle = orbitalColors[k];
      ctx.lineWidth = 2;
      ctx.beginPath();
      ctx.moveTo(a.left + 46, ly);
      ctx.lineTo(a.left + 66, ly);
      ctx.stroke();
    });
    ctx.restore();
  }
};

const wrap = document.getElementById('wrap');

panels.forEach((p, i) => {
  const last = i === panels.length - 1;
  const top = panelTops[i] - 2;
  const height = last ? 934 - top : panelBottoms[i] - panelTops[i] + 4;
  const cv = document.createElement('canvas');
  cv.width = 399;
  cv.height = height;
  cv.style.top = top + 'px';
  cv.style.width = '399px';
  cv.style.height = height + 'px';
  wrap.appendChild(cv);

  const datasets = [];
  [p.up, p.dn].forEach(group => {
    group.forEach((series, k) => {
      datasets.push({
        data: series.map(([e, v]) => ({ x: e, y: v })),
        borderColor: orbitalColors[k],
        borderWidth: 1.7,
        pointRadius: 0,
        tension: 0,
        fill: false,
        clip: 0,
        order: drawOrder[k]
      });
    });
  });

  new Chart(cv, {
    type: 'line',
    data: { datasets },
    options: {
      responsive: false,
      devicePixelRatio: 1,
      animation: false,
      layout: { padding: { left: 0, right: 10, top: 2, bottom: last ? 0 : 2 } },
      plugins: {
        legend: { display: false },
        tooltip: { enabled: false },
        panelDeco: { letter: panelLetters[i], u: uValues[i] }
      },
      scales: {
        x: {
          type: 'linear',
          min: -4,
          max: 4,
          display: last,
          afterBuildTicks: s => { s.ticks = energyTicks.map(v => ({ value: v })); },
          afterFit: s => {
            s.height = last ? 934 - 882 : 0;
            s.paddingLeft = 0; s.paddingRight = 0; s.paddingTop = 0; s.paddingBottom = 0;
          },
          grid: { display: false, drawTicks: false },
          border: { display: false },
          ticks: {
            font: { family: SANS, size: 14 },
            color: '#111',
            padding: 7,
            maxRotation: 0,
            callback: v => energyTickLabels[energyTicks.indexOf(v)]
          },
          title: {
            display: true,
            text: 'Energy (eV)',
            font: { family: SANS, size: 14 },
            color: '#111',
            padding: { top: 0, bottom: 4 }
          }
        },
        y: {
          type: 'linear',
          min: -1.2,
          max: 1.24,
          afterBuildTicks: s => { s.ticks = pdosTicks.map(v => ({ value: v })); },
          afterFit: s => {
            s.width = 72;
            s.paddingTop = 0; s.paddingBottom = 0; s.paddingLeft = 0; s.paddingRight = 0;
          },
          grid: { display: false, drawTicks: false },
          border: { display: false },
          ticks: {
            font: { family: SANS, size: 13 },
            color: '#111',
            padding: 8,
            callback: v => pdosTickLabels[pdosTicks.indexOf(v)]
          },
          title: {
            display: true,
            text: 'PDOS (states/eV)',
            font: { family: SANS, size: 13 },
            color: '#111',
            padding: { top: 10, bottom: 0 }
          }
        }
      }
    },
    plugins: [fermiLine, panelDeco]
  });
});
</script>
</body>
</html>
